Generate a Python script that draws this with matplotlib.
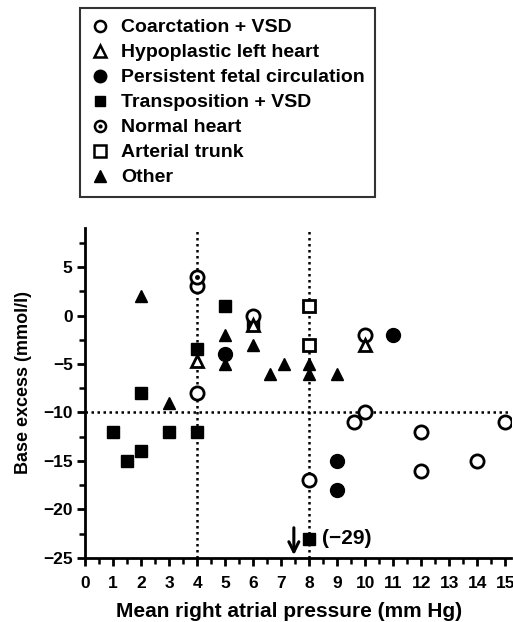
import matplotlib
matplotlib.use("Agg")
import matplotlib.pyplot as plt
from matplotlib.lines import Line2D
from matplotlib.legend_handler import HandlerTuple

plt.rcParams["font.family"] = ["Liberation Sans", "DejaVu Sans"]

# values: x = mean right atrial pressure, y = base excess
coarct_x = [4, 4, 6, 10, 10, 9.6, 12, 15, 14, 12, 8]
coarct_y = [3, -8, 0, -2, -10, -11, -12, -11, -15, -16, -17]

hypo_x = [4, 10, 6]
hypo_y = [-4.7, -3, -1]

pfc_x = [5, 11, 9, 9]
pfc_y = [-4, -2, -15, -18]

transp_x = [1, 1.5, 2, 2, 3, 4, 4, 5, 6, 8]
transp_y = [-12, -15, -14, -8, -12, -12, -3.5, 1, -1, -23]

normal_x = [4]
normal_y = [4]

trunk_x = [8, 8]
trunk_y = [1, -3]

other_x = [2, 3, 5, 5, 6, 6.6, 7.1, 8, 8, 9]
other_y = [2, -9, -2, -5, -3, -6, -5, -5, -6, -6]

cut_x = [4, 8]
cut_y = -10

fig = plt.figure(figsize=(5.13, 6.22), dpi=100)
ax = fig.add_axes([0.166, 0.103, 0.830, 0.530])

dots = dict(color="black", lw=1.8, dashes=(1, 1.4), zorder=1)
for cx in cut_x:
    ax.plot([cx, cx], [-25, 9], **dots)
ax.plot([0, 15.2], [cut_y, cut_y], **dots)

ms = 9.5
open_kw = dict(ls="none", mfc="white", mec="black", mew=2.0, zorder=3)
fill_kw = dict(ls="none", color="black", zorder=3)

ax.plot(transp_x, transp_y, "s", ms=ms - 1, **fill_kw)
ax.plot(other_x, other_y, "^", ms=ms - 0.5, **fill_kw)
ax.plot(pfc_x, pfc_y, "o", ms=ms + 0.5, **fill_kw)
ax.plot(coarct_x, coarct_y, "o", ms=ms, **open_kw)
ax.plot(hypo_x, hypo_y, "^", ms=ms - 0.5, **open_kw)
ax.plot(trunk_x, trunk_y, "s", ms=ms - 0.5, **open_kw)
ax.plot(normal_x, normal_y, "o", ms=ms, **open_kw)
ax.plot(normal_x, normal_y, "o", ms=2.5, color="black", ls="none", zorder=4)

# off-scale value
ax.text(8.45, -23, "(\u221229)", fontsize=15, fontweight="bold", va="center", ha="left")
ax.annotate("", xy=(7.45, -25.0), xytext=(7.45, -21.6),
            arrowprops=dict(arrowstyle="->", lw=2.2, color="black",
                            mutation_scale=18))

ax.set_xlim(0, 15.2)
ax.set_ylim(-25, 9)
ax.set_xticks(range(0, 16))
ax.set_xticks([i + 0.5 for i in range(0, 15)], minor=True)
ax.set_yticks([-25, -20, -15, -10, -5, 0, 5])
ax.set_yticks([-22.5, -17.5, -12.5, -7.5, -2.5, 2.5, 7.5], minor=True)
ax.set_yticklabels(["\u221225", "\u221220", "\u221215", "\u221210", "\u22125", "0", "5"])
for s in ["top", "right"]:
    ax.spines[s].set_visible(False)
for s in ["left", "bottom"]:
    ax.spines[s].set_linewidth(2.0)
ax.tick_params(which="major", length=6, width=2.0, labelsize=12.5)
ax.tick_params(axis="x", which="major", pad=7)
ax.tick_params(axis="y", which="major", pad=3)
ax.tick_params(which="minor", length=4, width=1.8)
for lab in ax.get_xticklabels() + ax.get_yticklabels():
    lab.set_fontweight("bold")

ax.set_xlabel("Mean right atrial pressure (mm Hg)", fontsize=15, fontweight="bold")
ax.xaxis.set_label_coords(0.48, -0.135)
ax.set_ylabel("Base excess (mmol/l)", fontsize=13, fontweight="bold")
ax.yaxis.set_label_coords(-0.125, 0.533)

lms = 8
h_coarct = Line2D([], [], marker="o", ms=lms, mfc="white", mec="black", mew=1.8, ls="none")
h_hypo = Line2D([], [], marker="^", ms=lms, mfc="white", mec="black", mew=1.8, ls="none")
h_pfc = Line2D([], [], marker="o", ms=lms + 1, color="black", ls="none")
h_transp = Line2D([], [], marker="s", ms=lms - 0.5, color="black", ls="none")
h_norm_a = Line2D([], [], marker="o", ms=lms, mfc="white", mec="black", mew=1.8, ls="none")
h_norm_b = Line2D([], [], marker="o", ms=2, color="black", ls="none")
h_trunk = Line2D([], [], marker="s", ms=lms, mfc="white", mec="black", mew=1.8, ls="none")
h_other = Line2D([], [], marker="^", ms=lms, color="black", ls="none")

leg = fig.legend(
    [h_coarct, h_hypo, h_pfc, h_transp, (h_norm_a, h_norm_b), h_trunk, h_other],
    ["Coarctation + VSD", "Hypoplastic left heart", "Persistent fetal circulation",
     "Transposition + VSD", "Normal heart", "Arterial trunk", "Other"],
    handler_map={tuple: HandlerTuple(ndivide=1, pad=0)},
    loc="upper left", bbox_to_anchor=(0.156, 0.987),
    prop=dict(size=14, weight="bold"), frameon=True, fancybox=False,
    edgecolor="black", handlelength=1.0, handletextpad=0.55, labelspacing=0.38,
    borderpad=0.55, borderaxespad=0)
leg.get_frame().set_linewidth(1.5)

fig.savefig("out.png", dpi=100)
